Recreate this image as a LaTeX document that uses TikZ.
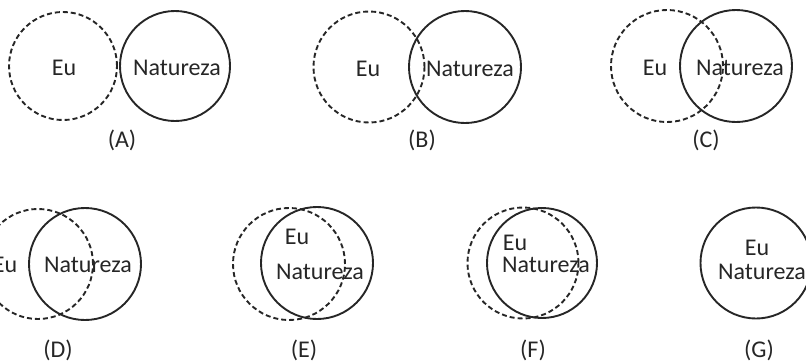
\documentclass[tikz,border=0pt]{standalone}
\usepackage{fontspec}
\setmainfont{Carlito}
\begin{document}
\begin{tikzpicture}[x=1pt,y=-1pt,
  ring/.style={circle,draw=black!85,line width=1.9pt,minimum size=#1,inner sep=0pt},
  dring/.style={ring=#1,dash pattern=on 5pt off 3pt},
  lbl/.style={font=\fontsize{24}{27}\selectfont,text=black!85,inner sep=0pt},
  figcap/.style={font=\fontsize{24}{27}\selectfont,text=black!85,inner sep=0pt}]
\useasboundingbox (0,0) rectangle (806,362);
\clip (0,0) rectangle (806,362);
% (A)
\node[dring=108pt] (aeu) at (63,66) {};
\node[ring=110pt] (ana) at (175,66) {};
\node[lbl] (taeu) at (64,68) {Eu};
\node[lbl] (tana) at (177,68) {Natureza};
\node[figcap] (capa) at (122,140) {(A)};
% (B)
\node[dring=111pt] (beu) at (369,67) {};
\node[ring=112pt] (bna) at (465,67) {};
\node[lbl] (tbeu) at (368,69) {Eu};
\node[lbl] (tbna) at (470,69) {Natureza};
\node[figcap] (capb) at (422,140) {(B)};
% (C)
\node[dring=112pt] (ceu) at (667,66) {};
\node[ring=112pt] (cna) at (736,66) {};
\node[lbl] (tceu) at (655,68) {Eu};
\node[lbl] (tcna) at (740,68) {Natureza};
\node[figcap] (capc) at (706,140) {(C)};
% (D)
\node[dring=110pt] (deu) at (38,264) {};
\node[ring=112pt] (dna) at (85,264) {};
\node[lbl] (tdeu) at (5,265) {Eu};
\node[lbl] (tdna) at (88,265) {Natureza};
\node[figcap] (capd) at (58,350) {(D)};
% (E)
\node[dring=112pt] (eeu) at (289,264) {};
\node[ring=112pt] (ena) at (317,263) {};
\node[lbl] (teeu) at (297,237) {Eu};
\node[lbl] (tena) at (320,272) {Natureza};
\node[figcap] (cape) at (304,350) {(E)};
% (F)
\node[dring=111pt] (feu) at (523,263) {};
\node[ring=110pt] (fna) at (542,263) {};
\node[lbl] (tfeu) at (515,243) {Eu};
\node[lbl] (tfna) at (546,265) {Natureza};
\node[figcap] (capf) at (533,350) {(F)};
% (G)
\node[ring=111pt] (gna) at (756,263) {};
\node[lbl] (tgeu) at (757,248) {Eu};
\node[lbl] (tgna) at (762,272) {Natureza};
\node[figcap] (capg) at (759,350) {(G)};
\end{tikzpicture}
\end{document}
